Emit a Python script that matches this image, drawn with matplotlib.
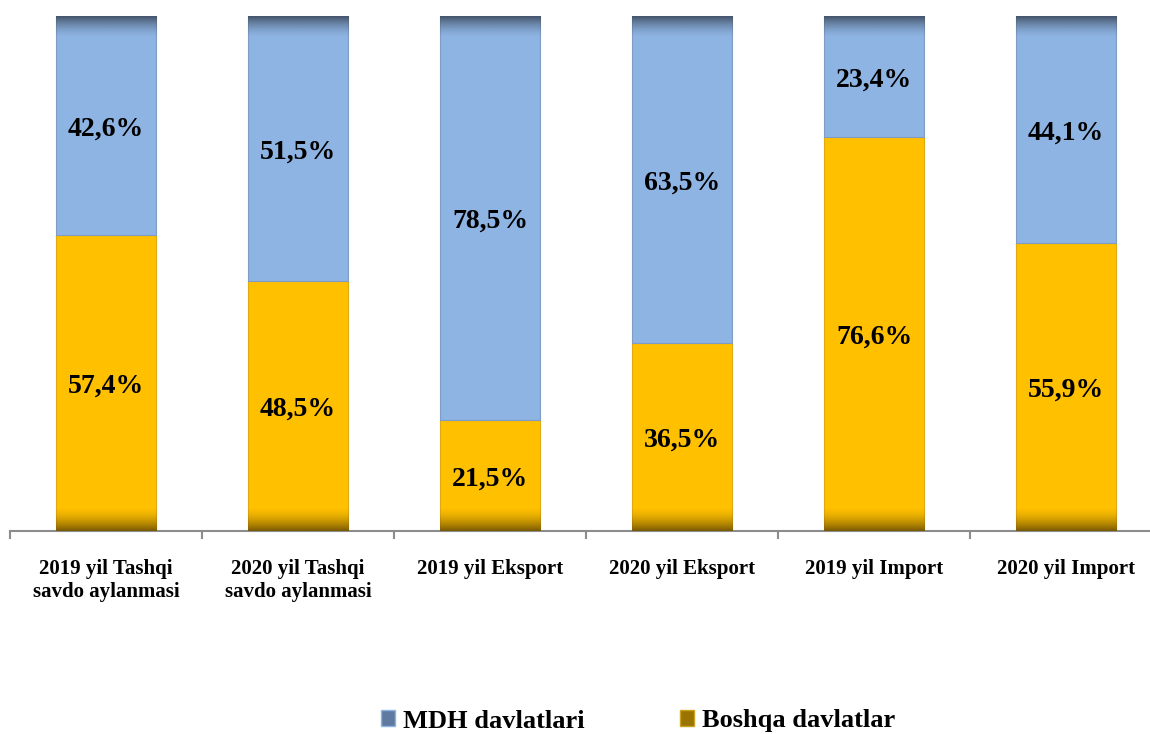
import matplotlib
matplotlib.use("Agg")
import matplotlib.pyplot as plt
import numpy as np
from matplotlib.colors import to_rgb
from matplotlib.patches import Patch

categories = ["2019 yil Tashqi\nsavdo aylanmasi", "2020 yil Tashqi\nsavdo aylanmasi",
              "2019 yil Eksport", "2020 yil Eksport", "2019 yil Import", "2020 yil Import"]
boshqa = [57.4, 48.5, 21.5, 36.5, 76.6, 55.9]
mdh = [42.6, 51.5, 78.5, 63.5, 23.4, 44.1]
series_names = ["MDH davlatlari", "Boshqa davlatlar"]

plt.rcParams['font.family'] = ['Liberation Serif', 'DejaVu Serif']
plt.rcParams['font.weight'] = 'bold'

BLUE = "#8EB4E3"
ORANGE = "#FFC000"
DARK_BLUE = "#44546A"
DARK_ORANGE = "#7A5A00"

fig = plt.figure(figsize=(11.5, 7.34), dpi=100)
W, H = 1150, 734
ax = fig.add_axes([10 / W, 1 - 531 / H, 1152 / W, (531 - 16) / H])

x = np.arange(len(categories))
width = 0.526
b1 = ax.bar(x, boshqa, width, color=ORANGE, edgecolor="#E0AA10", linewidth=0.8, zorder=2)
b2 = ax.bar(x, mdh, width, bottom=boshqa, color=BLUE, edgecolor="#7E9CC4", linewidth=0.8, zorder=2)


def gradient(ax, x0, x1, y0, y1, color, top_dark):
    n = 64
    c = np.array(to_rgb(color))
    t = np.linspace(0, 1, n)
    a = t ** 1.6 if top_dark else (1 - t) ** 1.6
    img = np.zeros((n, 2, 4))
    img[..., :3] = c
    img[..., 3] = a[:, None]
    ax.imshow(img, extent=(x0, x1, y0, y1), origin="lower", aspect="auto",
              zorder=3, interpolation="bilinear")


for p in b2.patches:
    x0 = p.get_x()
    x1 = x0 + p.get_width()
    top = p.get_y() + p.get_height()
    gradient(ax, x0, x1, top - 4.2, top, DARK_BLUE, True)
for p in b1.patches:
    x0 = p.get_x()
    x1 = x0 + p.get_width()
    bot = p.get_y()
    gradient(ax, x0, x1, bot, bot + 4.5, DARK_ORANGE, False)

ax.set_xlim(-0.5, len(categories) - 0.5)
ax.set_ylim(0, 100)

for i in range(len(categories)):
    ax.annotate(f"{boshqa[i]:.1f}%".replace(".", ","), (x[i], boshqa[i] / 2),
                xytext=(0, -2.5), textcoords="offset points",
                ha="center", va="center", fontsize=20, fontweight="bold", zorder=5)
    ax.annotate(f"{mdh[i]:.1f}%".replace(".", ","), (x[i], boshqa[i] + mdh[i] / 2),
                xytext=(0, -2.5), textcoords="offset points",
                ha="center", va="center", fontsize=20, fontweight="bold", zorder=5)

for s in ["top", "right", "left"]:
    ax.spines[s].set_visible(False)
ax.spines["bottom"].set_color("#8C8C8C")
ax.spines["bottom"].set_linewidth(1.5)
ax.set_yticks([])
ax.set_xticks(np.arange(-0.5, len(categories), 1.0))
ax.set_xticklabels([])
ax.tick_params(axis="x", length=6, width=1.5, color="#8C8C8C")
ax.set_xticks(x, minor=True)
ax.set_xticklabels(categories, minor=True, fontsize=15, fontweight="bold")
ax.tick_params(axis="x", which="minor", length=0, pad=20.5)

handles = [Patch(facecolor="#5F7AA0", edgecolor="#8EB4E3", label=series_names[0]),
           Patch(facecolor="#9A7400", edgecolor="#C9A020", label=series_names[1])]
fig.legend(handles=handles, loc="center", bbox_to_anchor=(0.555, 1 - 721 / H),
           ncol=2, frameon=False, prop={"weight": "bold", "size": 19},
           handlelength=0.55, handleheight=0.55, handletextpad=0.3, columnspacing=3.6)

fig.savefig("out.png", dpi=100)
